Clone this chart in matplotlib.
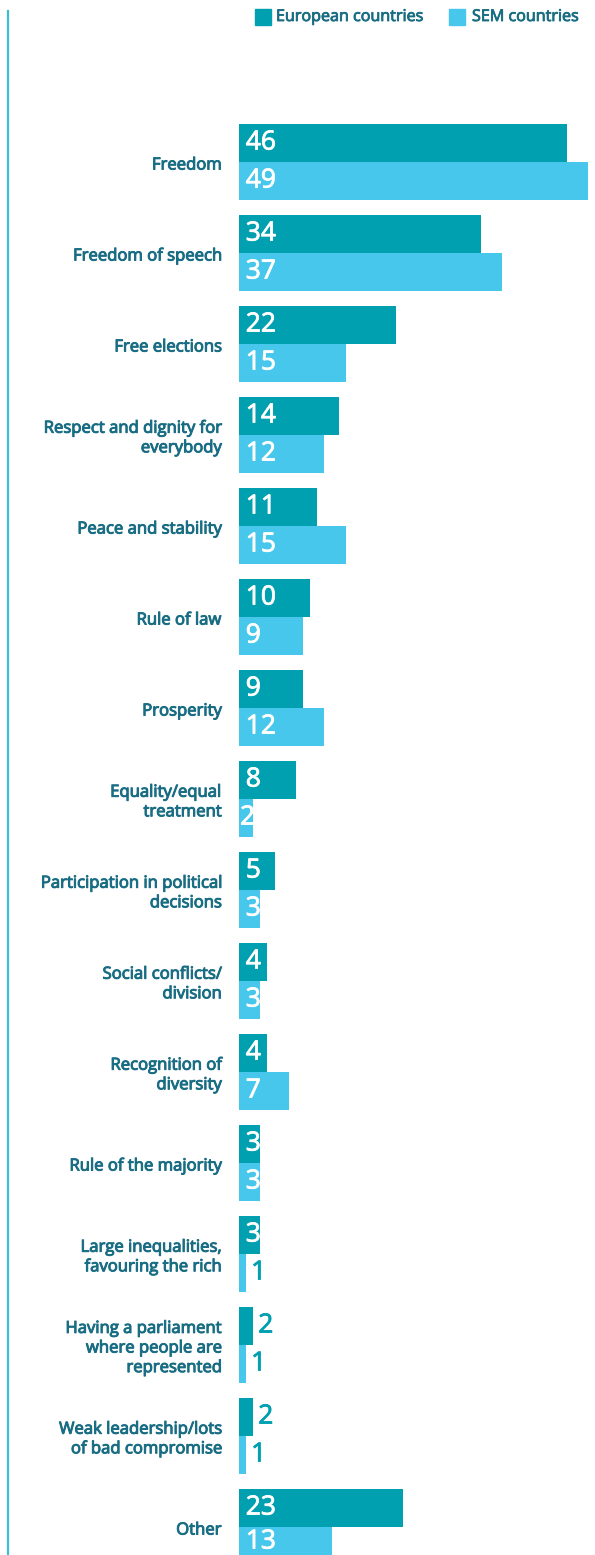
import numpy as np
import matplotlib
matplotlib.use('Agg')
import matplotlib.pyplot as plt
import matplotlib.patheffects as pe
from matplotlib.patches import Rectangle

plt.rcParams['font.family'] = ['Open Sans', 'DejaVu Sans']

# Data
categories = [
    'Freedom',
    'Freedom of speech',
    'Free elections',
    'Respect and dignity for\neverybody',
    'Peace and stability',
    'Rule of law',
    'Prosperity',
    'Equality/equal\ntreatment',
    'Participation in political\ndecisions',
    'Social conflicts/\ndivision',
    'Recognition of\ndiversity',
    'Rule of the majority',
    'Large inequalities,\nfavouring the rich',
    'Having a parliament\nwhere people are\nrepresented',
    'Weak leadership/lots\nof bad compromise',
    'Other',
]
european = [46, 34, 22, 14, 11, 10, 9, 8, 5, 4, 4, 3, 3, 2, 2, 23]
sem = [49, 37, 15, 12, 15, 9, 12, 2, 3, 3, 7, 3, 1, 1, 1, 13]

EU_COLOR = '#00A0B0'
SEM_COLOR = '#48C7EC'
LABEL_COLOR = '#196D83'


def semibold(color, lw):
    # Open Sans here has no semibold face, so thicken the regular one a bit
    return [pe.withStroke(linewidth=lw, foreground=color)]


W, H = 595, 1555
fig = plt.figure(figsize=(W / 100, H / 100), dpi=100)

# axes start where the bars start; one y unit = one group (91 px)
x0 = 239
pitch = 91.0
first_mid = 162.0
ax = fig.add_axes([x0 / W, 0, 1 - x0 / W, 1])
y_bottom = (H - first_mid) / pitch
ax.set_xlim(0, 50)
ax.set_ylim(y_bottom, -first_mid / pitch)
ax.axis('off')

bh = 38 / pitch
y = np.arange(len(categories))
ax.barh(y - bh / 2, european, height=bh, color=EU_COLOR, linewidth=0)
ax.barh(y + bh / 2, sem, height=bh, color=SEM_COLOR, linewidth=0)

lab_dy = 3.5 / pitch
num_max = y_bottom - 13 / pitch   # keep the last number inside the picture
for i in range(len(categories)):
    for val, yy, lim in ((european[i], y[i] - bh / 2, 2), (sem[i], y[i] + bh / 2, 1)):
        yy = min(yy, num_max)
        if val > lim:
            pad = 0.95 if val >= 3 else 0.15
            ax.text(pad, yy, str(val), ha='left', va='center', color='white',
                    fontsize=19, path_effects=semibold('white', 0.6))
        else:
            ax.text(val + 0.7, yy, str(val), ha='left', va='center',
                    color=EU_COLOR, fontsize=19, path_effects=semibold(EU_COLOR, 0.6))
    ax.text(-2.5, y[i] + lab_dy, categories[i], ha='right', va='center',
            color=LABEL_COLOR, fontsize=12, linespacing=1.3, clip_on=False,
            path_effects=semibold(LABEL_COLOR, 0.7))

# left vertical rule
fig.add_artist(plt.Line2D([7.5 / W, 7.5 / W], [0, 1 - 11 / H], color='#3CBFD0',
                          linewidth=1.6))

# legend
for sx, tx, lab, col in ((255, 276, 'European countries', EU_COLOR),
                         (449, 472, 'SEM countries', SEM_COLOR)):
    fig.add_artist(Rectangle((sx / W, 1 - 25 / H), 16 / W, 16 / H, color=col,
                             transform=fig.transFigure))
    fig.text(tx / W, 1 - 17 / H, lab, ha='left', va='center', color=LABEL_COLOR,
             fontsize=11.6, path_effects=semibold(LABEL_COLOR, 0.6))

fig.savefig('out.png', dpi=100)
